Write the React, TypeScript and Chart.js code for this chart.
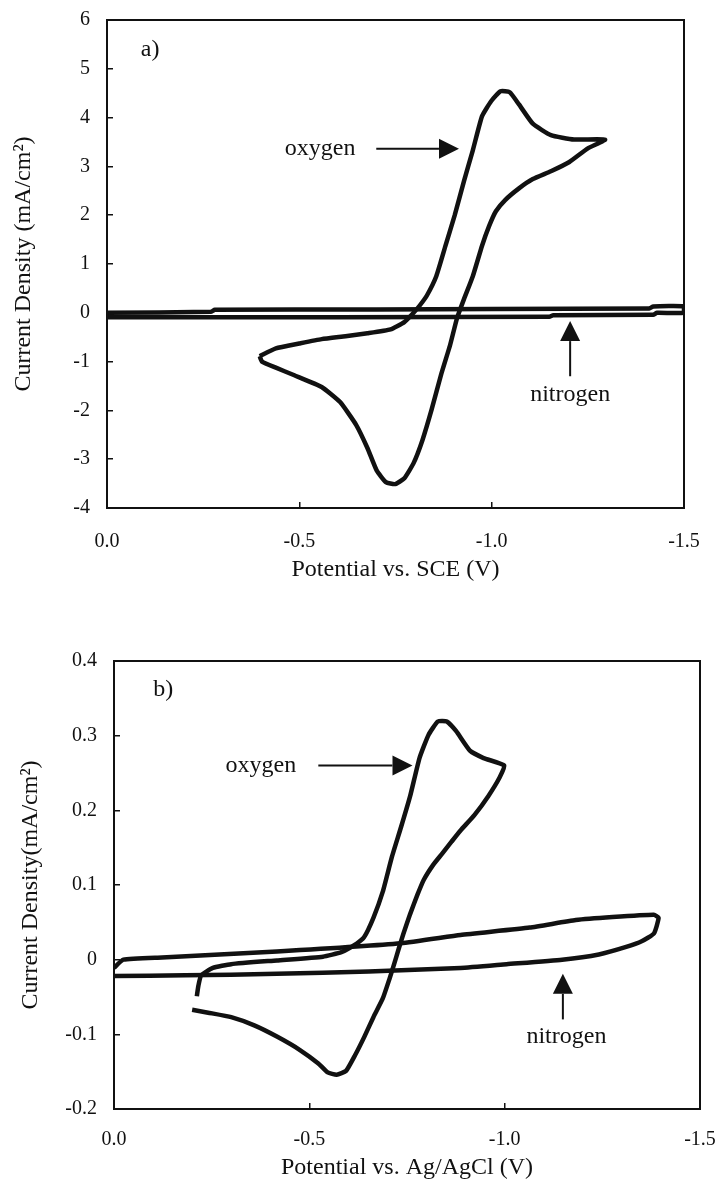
import React, { useEffect, useRef } from "react";
import { Chart, registerables } from "chart.js";

Chart.register(...registerables);

const FONT = "'Liberation Serif', 'Times New Roman', Times, serif";

// ---------- Panel a) : potential vs. SCE ----------
const oxygenA_E = [
  -0.397, -0.439, -0.5, -0.558, -0.62, -0.677, -0.737, -0.773, -0.797, -0.815, -0.832, -0.856,
  -0.88, -0.904, -0.928, -0.951, -0.975, -0.999, -1.023, -1.047, -1.071, -1.107, -1.154, -1.214,
  -1.295, -1.25, -1.202, -1.154, -1.107, -1.071, -1.035, -1.011, -0.993, -0.975, -0.951, -0.928,
  -0.91, -0.892, -0.868, -0.844, -0.82, -0.797, -0.773, -0.749, -0.725, -0.701, -0.677, -0.648,
  -0.606, -0.558, -0.487, -0.439, -0.403, -0.397,
];
const oxygenA_I = [
  -0.89, -0.73, -0.63, -0.54, -0.48, -0.42, -0.34, -0.19, 0.0, 0.17, 0.36, 0.75,
  1.375, 2.0, 2.7, 3.33, 4.03, 4.34, 4.54, 4.52, 4.27, 3.875, 3.64, 3.55,
  3.55, 3.37, 3.09, 2.9, 2.74, 2.55, 2.31, 2.08, 1.77, 1.375, 0.75, 0.28,
  -0.11, -0.66, -1.28, -1.98, -2.61, -3.08, -3.39, -3.51, -3.47, -3.23, -2.77, -2.3,
  -1.83, -1.52, -1.28, -1.125, -1.0, -0.89,
];
const nitrogenA_E = [0, -0.27, -0.28, -0.7, -1.0, -1.41, -1.42, -1.5, -1.5, -1.43, -1.42, -1.16, -1.15, -0.6, 0];
const nitrogenA_I = [0.0, 0.02, 0.06, 0.07, 0.08, 0.09, 0.13, 0.13, 0.0, 0.0, -0.04, -0.05, -0.08, -0.09, -0.09];

// ---------- Panel b) : potential vs. Ag/AgCl ----------
const oxygenB_E = [
  -0.212, -0.216, -0.223, -0.253, -0.3, -0.417, -0.535, -0.582, -0.617, -0.64, -0.664, -0.688,
  -0.711, -0.735, -0.758, -0.782, -0.805, -0.829, -0.852, -0.876, -0.911, -0.946, -0.999,
  -0.987, -0.958, -0.923, -0.887, -0.864, -0.84, -0.817, -0.793, -0.776, -0.758, -0.741, -0.729,
  -0.717, -0.705, -0.688, -0.664, -0.641, -0.617, -0.594, -0.57, -0.547, -0.523, -0.476, -0.417,
  -0.359, -0.3, -0.241, -0.2,
];
const oxygenB_I = [
  -0.049, -0.035, -0.021, -0.011, -0.006, -0.001, 0.004, 0.01, 0.02, 0.03, 0.056, 0.091,
  0.137, 0.178, 0.219, 0.27, 0.301, 0.319, 0.319, 0.306, 0.28, 0.27, 0.26,
  0.244, 0.219, 0.194, 0.173, 0.158, 0.142, 0.127, 0.107, 0.086, 0.061, 0.035, 0.015,
  -0.006, -0.026, -0.052, -0.077, -0.103, -0.128, -0.149, -0.154, -0.151, -0.139, -0.121, -0.103,
  -0.088, -0.077, -0.071, -0.067,
];
const nitrogenB_E = [
  0, -0.024, -0.123, -0.417, -0.735, -0.887, -1.064, -1.182, -1.276, -1.382, -1.394, -1.382,
  -1.352, -1.311, -1.241, -1.147, -1.005, -0.887, -0.652, -0.417, -0.182, 0,
];
const nitrogenB_I = [
  -0.011, 0.0, 0.003, 0.011, 0.022, 0.033, 0.043, 0.053, 0.057, 0.06, 0.056, 0.035,
  0.025, 0.017, 0.007, 0.0, -0.006, -0.011, -0.016, -0.019, -0.021, -0.022,
];

// axis ranges
const potentialRange = [-1.5, 0];
const currentRangeA = [-4, 6];
const currentRangeB = [-0.2, 0.4];

// annotation anchors (data units)
const annotA = {
  panel: "a)", panelAt: [-0.112, 5.39],
  oxyAt: [-0.554, 3.36], oxyArrow: [-0.70, -0.915, 3.36],
  nitAt: [-1.204, -1.68], nitArrow: [-1.204, -1.3, -0.17],
};
const annotB = {
  panel: "b)", panelAt: [-0.126, 0.362],
  oxyAt: [-0.376, 0.26], oxyArrow: [-0.523, -0.764, 0.26],
  nitAt: [-1.158, -0.103], nitArrow: [-1.149, -0.08, -0.019],
};

const pts = (xs: number[], ys: number[]) => xs.map((x, i) => ({ x, y: ys[i] }));

function annotationPlugin(a: any) {
  return {
    id: "annot",
    afterDraw(chart: any) {
      const { ctx, chartArea, scales } = chart;
      const X = (v: number) => scales.x.getPixelForValue(v);
      const Y = (v: number) => scales.y.getPixelForValue(v);
      ctx.save();
      ctx.strokeStyle = "#111";
      ctx.fillStyle = "#111";
      ctx.lineWidth = 2;
      ctx.strokeRect(chartArea.left, chartArea.top, chartArea.right - chartArea.left, chartArea.bottom - chartArea.top);
      ctx.font = `24px ${FONT}`;
      ctx.textAlign = "center";
      ctx.textBaseline = "middle";
      ctx.fillText(a.panel, X(a.panelAt[0]), Y(a.panelAt[1]));
      ctx.fillText("oxygen", X(a.oxyAt[0]), Y(a.oxyAt[1]));
      ctx.fillText("nitrogen", X(a.nitAt[0]), Y(a.nitAt[1]));
      const head = 20, half = 10;
      const x1 = X(a.oxyArrow[0]), x2 = X(a.oxyArrow[1]), yy = Y(a.oxyArrow[2]);
      ctx.beginPath();
      ctx.moveTo(x1, yy);
      ctx.lineTo(x2 - head, yy);
      ctx.stroke();
      ctx.beginPath();
      ctx.moveTo(x2, yy);
      ctx.lineTo(x2 - head, yy - half);
      ctx.lineTo(x2 - head, yy + half);
      ctx.closePath();
      ctx.fill();
      const xx = X(a.nitArrow[0]), y1 = Y(a.nitArrow[1]), y2 = Y(a.nitArrow[2]);
      ctx.beginPath();
      ctx.moveTo(xx, y1);
      ctx.lineTo(xx, y2 + head);
      ctx.stroke();
      ctx.beginPath();
      ctx.moveTo(xx, y2);
      ctx.lineTo(xx - half, y2 + head);
      ctx.lineTo(xx + half, y2 + head);
      ctx.closePath();
      ctx.fill();
      ctx.restore();
    },
  };
}

function makeConfig(p: any) {
  const lineDs = (label: string, data: any[]) => ({
    label,
    data,
    showLine: true,
    borderColor: "#111",
    backgroundColor: "#111",
    borderWidth: 4.5,
    pointRadius: 0,
    tension: 0.15,
    fill: false,
  });
  const gridOpts = {
    display: true,
    drawOnChartArea: false,
    drawTicks: true,
    tickLength: -6,
    color: "#111",
    lineWidth: 1.5,
  };
  return {
    type: "scatter",
    data: {
      datasets: [lineDs("oxygen", p.oxygen), lineDs("nitrogen", p.nitrogen)],
    },
    options: {
      responsive: false,
      animation: false,
      events: [],
      layout: { padding: { top: p.padTop, right: p.padRight, left: 0, bottom: 0 } },
      plugins: { legend: { display: false }, tooltip: { enabled: false }, title: { display: false } },
      scales: {
        x: {
          type: "linear",
          reverse: true,
          min: potentialRange[0],
          max: potentialRange[1],
          border: { display: false },
          grid: gridOpts,
          ticks: {
            stepSize: 0.5,
            autoSkip: false,
            maxRotation: 0,
            padding: p.xTickPad,
            color: "#111",
            font: { family: FONT, size: 20 },
            callback: (v: number) => Number(v).toFixed(1),
          },
          title: {
            display: true,
            text: p.xTitle,
            color: "#111",
            font: { family: FONT, size: 24 },
            padding: { top: 0, bottom: p.xTitlePad },
          },
          afterFit: (s: any) => {
            s.height = p.xHeight;
            s.paddingLeft = 0;
            s.paddingRight = 0;
          },
        },
        y: {
          type: "linear",
          min: p.yMin,
          max: p.yMax,
          border: { display: false },
          grid: gridOpts,
          ticks: {
            stepSize: p.yStep,
            autoSkip: false,
            padding: 23,
            color: "#111",
            font: { family: FONT, size: 20 },
            callback: p.yFmt,
          },
          title: {
            display: true,
            text: p.yTitle,
            color: "#111",
            font: { family: FONT, size: 24 },
            padding: { top: p.yTitlePad, bottom: 0 },
          },
          afterFit: (s: any) => {
            s.width = p.yWidth;
            s.paddingTop = 0;
            s.paddingBottom = 0;
          },
        },
      },
    },
    plugins: [annotationPlugin(p.annot)],
  };
}

function CvChart({ cfg, width, height, top }: any) {
  const ref = useRef<HTMLCanvasElement | null>(null);
  useEffect(() => {
    if (!ref.current) return;
    const chart = new Chart(ref.current, cfg as any);
    return () => chart.destroy();
  }, []);
  return (
    <canvas
      ref={ref}
      width={width}
      height={height}
      style={{ position: "absolute", left: 0, top, width, height, display: "block" }}
    />
  );
}

export default function App() {
  const cfgA = makeConfig({
    oxygen: pts(oxygenA_E, oxygenA_I),
    nitrogen: pts(nitrogenA_E, nitrogenA_I),
    yMin: currentRangeA[0],
    yMax: currentRangeA[1],
    yStep: 1,
    yFmt: (v: number) => String(Math.round(v)),
    xTitle: "Potential vs. SCE (V)",
    yTitle: "Current Density (mA/cm\u00B2)",
    padTop: 20,
    padRight: 38,
    yWidth: 107,
    xHeight: 92,
    xTickPad: 28,
    xTitlePad: 15.6,
    yTitlePad: 9.6,
    annot: annotA,
  });
  const cfgB = makeConfig({
    oxygen: pts(oxygenB_E, oxygenB_I),
    nitrogen: pts(nitrogenB_E, nitrogenB_I),
    yMin: currentRangeB[0],
    yMax: currentRangeB[1],
    yStep: 0.1,
    yFmt: (v: number) => (Math.abs(v) < 1e-9 ? "0" : Number(v).toFixed(1)),
    xTitle: "Potential vs. Ag/AgCl (V)",
    yTitle: "Current Density(mA/cm\u00B2)",
    padTop: 61,
    padRight: 22,
    yWidth: 114,
    xHeight: 79,
    xTickPad: 25,
    xTitlePad: 5.6,
    yTitlePad: 16.6,
    annot: annotB,
  });
  return (
    <div style={{ position: "absolute", left: 0, top: 0, width: 722, height: 1188, background: "#fff" }}>
      <CvChart cfg={cfgA} width={722} height={600} top={0} />
      <CvChart cfg={cfgB} width={722} height={588} top={600} />
    </div>
  );
}
